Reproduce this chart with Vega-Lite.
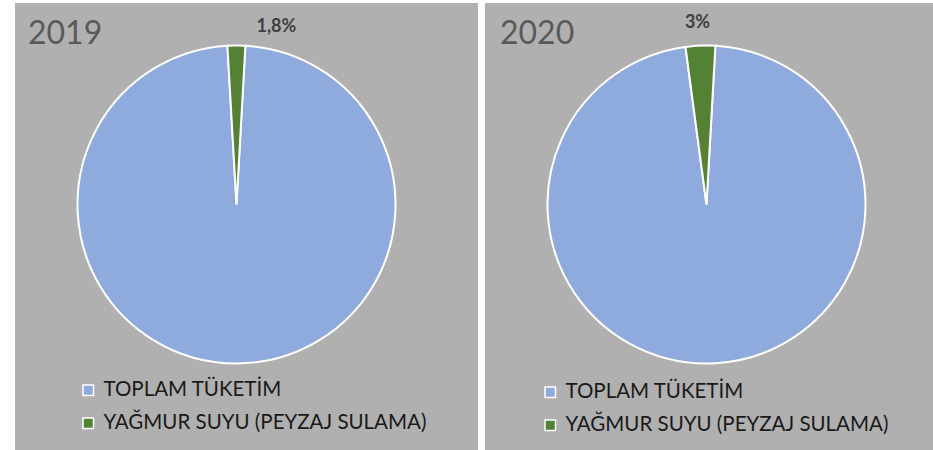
{
  "$schema": "https://vega.github.io/schema/vega-lite/v6.json",
  "padding": {"left": 15, "top": 3, "right": 0, "bottom": 0},
  "spacing": 7,
  "background": "white",
  "config": {
    "view": {"fill": "#b0b0b0", "stroke": null},
    "font": "Lato",
    "title": {"font": "Lato", "fontSize": 32, "fontWeight": "normal", "color": "#595959", "anchor": "start", "frame": "group"},
    "legend": {"labelFont": "Lato", "labelFontSize": 20.5, "labelColor": "#1a1a1a", "labelLimit": 420, "symbolType": "square", "symbolSize": 110, "rowPadding": 12, "labelOffset": 5, "padding": 0, "title": null, "orient": "none"}
  },
  "hconcat": [
    {
      "width": 463,
      "height": 447,
      "view": {"fill": "#b0b0b0", "stroke": null},
      "title": {"text": "2019", "offset": -48, "dx": 13},
      "data": {"values": [
        {"yil": "2019", "kategori": "TOPLAM TÜKETİM", "yuzde": 98.2, "etiket": "", "sira": 1},
        {"yil": "2019", "kategori": "YAĞMUR SUYU (PEYZAJ SULAMA)", "yuzde": 1.8, "etiket": "1,8%", "sira": 2}
      ]},
      "encoding": {
        "theta": {"field": "yuzde", "type": "quantitative", "stack": true, "scale": {"range": [0.056, 6.339]}},
        "order": {"field": "sira", "type": "quantitative"}
      },
      "layer": [
        {
          "mark": {"type": "arc", "outerRadius": 159, "stroke": "white", "strokeWidth": 2, "xOffset": -10, "yOffset": -22},
          "encoding": {
            "color": {"field": "kategori", "type": "nominal", "scale": {"domain": ["TOPLAM TÜKETİM", "YAĞMUR SUYU (PEYZAJ SULAMA)"], "range": ["#8FAADC", "#548235"]},
              "legend": {"legendX": 63, "legendY": 377}}
          }
        },
        {
          "mark": {"type": "text", "radius": 182, "font": "Lato", "fontSize": 18, "fontWeight": "bold", "color": "#404040", "xOffset": -10, "yOffset": -22, "dx": 40, "dy": 4},
          "encoding": {"text": {"field": "etiket"}}
        }
      ]
    },
    {
      "width": 448,
      "height": 447,
      "view": {"fill": "#b0b0b0", "stroke": null},
      "title": {"text": "2020", "offset": -48, "dx": 15},
      "data": {"values": [
        {"yil": "2020", "kategori": "TOPLAM TÜKETİM", "yuzde": 97, "etiket": "", "sira": 1},
        {"yil": "2020", "kategori": "YAĞMUR SUYU (PEYZAJ SULAMA)", "yuzde": 3, "etiket": "3%", "sira": 2}
      ]},
      "encoding": {
        "theta": {"field": "yuzde", "type": "quantitative", "stack": true, "scale": {"range": [0.056, 6.339]}},
        "order": {"field": "sira", "type": "quantitative"}
      },
      "layer": [
        {
          "mark": {"type": "arc", "outerRadius": 159, "stroke": "white", "strokeWidth": 2, "xOffset": -2.5, "yOffset": -22},
          "encoding": {
            "color": {"field": "kategori", "type": "nominal", "scale": {"domain": ["TOPLAM TÜKETİM", "YAĞMUR SUYU (PEYZAJ SULAMA)"], "range": ["#8FAADC", "#548235"]},
              "legend": {"legendX": 55, "legendY": 379}}
          }
        },
        {
          "mark": {"type": "text", "radius": 182, "font": "Lato", "fontSize": 18, "fontWeight": "bold", "color": "#404040", "xOffset": -2.5, "yOffset": -22, "dx": -2, "dy": 0},
          "encoding": {"text": {"field": "etiket"}}
        }
      ]
    }
  ],
  "resolve": {"scale": {"theta": "independent", "color": "independent"}, "legend": {"color": "independent"}}
}
